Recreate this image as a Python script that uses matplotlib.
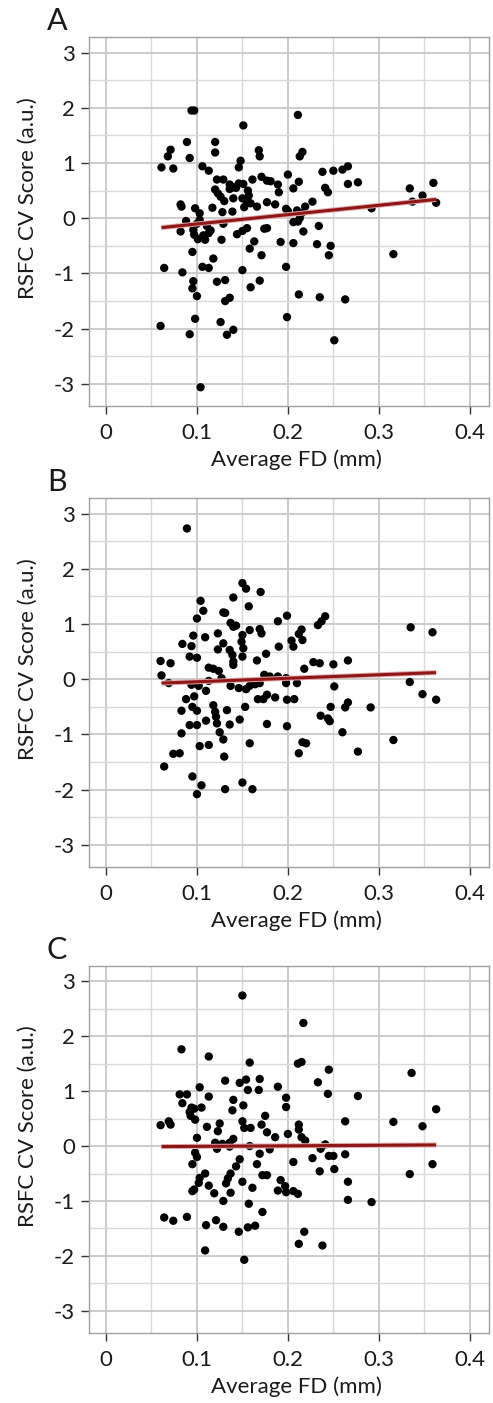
import numpy as np
import matplotlib.pyplot as plt
from matplotlib.ticker import MultipleLocator

plt.rcParams['font.family'] = ['Lato', 'DejaVu Sans']

# Panel A: average FD (mm) vs RSFC CV score
fd_a = [0.094, 0.097, 0.211, 0.151, 0.089, 0.120, 0.071, 0.068, 0.092, 0.120,
        0.168, 0.169, 0.216, 0.213, 0.148, 0.146, 0.061, 0.074, 0.106, 0.113,
        0.266, 0.260, 0.250, 0.238, 0.200, 0.161, 0.171, 0.177, 0.122, 0.129,
        0.136, 0.140, 0.146, 0.151, 0.181, 0.189, 0.190, 0.212, 0.206, 0.266,
        0.277, 0.241, 0.244, 0.120, 0.123, 0.126, 0.130, 0.136, 0.140, 0.156,
        0.157, 0.150, 0.155, 0.152, 0.159, 0.166, 0.177, 0.186, 0.198, 0.200,
        0.210, 0.219, 0.227, 0.292, 0.334, 0.337, 0.348, 0.360, 0.363, 0.082,
        0.083, 0.098, 0.103, 0.117, 0.128, 0.139, 0.088, 0.082, 0.096, 0.100,
        0.103, 0.111, 0.113, 0.097, 0.101, 0.109, 0.129, 0.127, 0.144, 0.150,
        0.155, 0.158, 0.163, 0.174, 0.177, 0.171, 0.192, 0.206, 0.206, 0.211,
        0.213, 0.215, 0.217, 0.234, 0.232, 0.247, 0.245, 0.316, 0.095, 0.118,
        0.064, 0.106, 0.113, 0.150, 0.198, 0.084, 0.096, 0.122, 0.131, 0.169,
        0.159, 0.095, 0.100, 0.136, 0.131, 0.212, 0.235, 0.263, 0.199, 0.098,
        0.126, 0.060, 0.092, 0.133, 0.140, 0.251, 0.104, 0.107, 0.115, 0.143]
score_a = [1.95, 1.95, 1.87, 1.68, 1.38, 1.38, 1.24, 1.12, 1.09, 1.19,
           1.23, 1.12, 1.20, 1.12, 1.04, 0.92, 0.92, 0.90, 0.94, 0.86,
           0.94, 0.88, 0.86, 0.84, 0.79, 0.70, 0.75, 0.68, 0.70, 0.70,
           0.61, 0.56, 0.63, 0.62, 0.67, 0.61, 0.47, 0.66, 0.54, 0.62,
           0.65, 0.55, 0.47, 0.52, 0.45, 0.39, 0.31, 0.53, 0.36, 0.50,
           0.41, 0.36, 0.30, 0.20, 0.27, 0.21, 0.29, 0.25, 0.17, 0.13,
           0.14, 0.21, 0.30, 0.18, 0.54, 0.30, 0.41, 0.64, 0.28, 0.25,
           0.21, 0.18, 0.09, 0.19, 0.11, 0.12, -0.05, -0.24, -0.21, -0.10,
           -0.03, -0.14, -0.27, -0.30, -0.38, -0.39, -0.10, -0.39, -0.29, -0.23,
           -0.18, -0.55, -0.42, -0.19, -0.18, -0.67, -0.43, -0.45, -0.07, -0.06,
           0.00, 0.09, -0.24, -0.14, -0.47, -0.50, -0.67, -0.65, -0.61, -0.73,
           -0.90, -0.88, -0.90, -0.94, -0.88, -0.98, -1.14, -1.15, -1.12, -1.13,
           -1.25, -1.27, -1.41, -1.44, -1.50, -1.38, -1.43, -1.47, -1.79, -1.82,
           -1.88, -1.95, -2.10, -2.11, -2.02, -2.21, -3.06, -0.31, -0.22, 0.55]

# Panel B
fd_b = [0.089, 0.150, 0.154, 0.170, 0.140, 0.104, 0.157, 0.107, 0.129, 0.131,
        0.199, 0.100, 0.241, 0.237, 0.233, 0.189, 0.137, 0.140, 0.143, 0.335,
        0.359, 0.158, 0.169, 0.171, 0.215, 0.212, 0.150, 0.096, 0.109, 0.123,
        0.216, 0.204, 0.206, 0.149, 0.129, 0.123, 0.136, 0.151, 0.084, 0.094,
        0.190, 0.176, 0.139, 0.150, 0.092, 0.100, 0.140, 0.140, 0.166, 0.060,
        0.071, 0.228, 0.235, 0.250, 0.266, 0.218, 0.113, 0.118, 0.124, 0.127,
        0.061, 0.069, 0.174, 0.180, 0.189, 0.198, 0.113, 0.094, 0.102, 0.110,
        0.137, 0.146, 0.154, 0.158, 0.164, 0.169, 0.198, 0.210, 0.251, 0.334,
        0.348, 0.363, 0.088, 0.097, 0.167, 0.173, 0.177, 0.186, 0.199, 0.207,
        0.266, 0.263, 0.247, 0.291, 0.095, 0.100, 0.083, 0.118, 0.120, 0.133,
        0.153, 0.121, 0.236, 0.244, 0.246, 0.110, 0.147, 0.122, 0.092, 0.100,
        0.136, 0.177, 0.199, 0.083, 0.125, 0.260, 0.129, 0.316, 0.216, 0.220,
        0.158, 0.103, 0.113, 0.074, 0.081, 0.212, 0.277, 0.130, 0.064, 0.095,
        0.150, 0.105, 0.131, 0.161, 0.100]
score_b = [2.73, 1.74, 1.64, 1.58, 1.48, 1.42, 1.32, 1.24, 1.21, 1.20,
           1.15, 1.10, 1.14, 1.05, 0.98, 1.05, 1.02, 0.95, 0.97, 0.94,
           0.85, 0.89, 0.91, 0.83, 0.90, 0.82, 0.80, 0.79, 0.76, 0.83,
           0.71, 0.70, 0.59, 0.68, 0.65, 0.54, 0.53, 0.56, 0.64, 0.60,
           0.59, 0.46, 0.44, 0.41, 0.41, 0.39, 0.32, 0.26, 0.34, 0.33,
           0.29, 0.31, 0.29, 0.27, 0.34, 0.19, 0.21, 0.19, 0.15, 0.02,
           0.07, -0.07, 0.08, 0.05, 0.05, 0.02, -0.03, -0.10, -0.12, -0.21,
           -0.12, -0.16, -0.18, -0.12, -0.09, -0.07, -0.07, -0.07, -0.13, -0.05,
           -0.27, -0.37, -0.36, -0.31, -0.36, -0.36, -0.28, -0.33, -0.37, -0.36,
           -0.42, -0.51, -0.50, -0.51, -0.50, -0.57, -0.57, -0.47, -0.59, -0.56,
           -0.50, -0.68, -0.66, -0.71, -0.76, -0.75, -0.73, -0.80, -0.83, -0.83,
           -0.82, -0.81, -0.85, -0.98, -0.96, -0.96, -1.09, -1.10, -1.14, -1.16,
           -1.16, -1.21, -1.19, -1.35, -1.34, -1.34, -1.31, -1.40, -1.58, -1.76,
           -1.87, -1.92, -1.99, -1.99, -2.08]

# Panel C
fd_c = [0.150, 0.217, 0.083, 0.113, 0.211, 0.215, 0.158, 0.245, 0.336, 0.131,
        0.147, 0.154, 0.169, 0.233, 0.103, 0.189, 0.156, 0.168, 0.081, 0.089,
        0.113, 0.198, 0.244, 0.277, 0.084, 0.140, 0.151, 0.094, 0.097, 0.105,
        0.198, 0.139, 0.363, 0.092, 0.093, 0.098, 0.175, 0.263, 0.316, 0.060,
        0.069, 0.071, 0.125, 0.150, 0.152, 0.159, 0.111, 0.212, 0.212, 0.171,
        0.177, 0.348, 0.123, 0.200, 0.186, 0.100, 0.140, 0.215, 0.219, 0.120,
        0.128, 0.136, 0.122, 0.136, 0.158, 0.241, 0.236, 0.180, 0.169, 0.098,
        0.100, 0.245, 0.250, 0.263, 0.095, 0.147, 0.143, 0.166, 0.206, 0.227,
        0.251, 0.235, 0.359, 0.334, 0.109, 0.137, 0.103, 0.134, 0.102, 0.113,
        0.132, 0.150, 0.161, 0.172, 0.177, 0.192, 0.266, 0.095, 0.097, 0.119,
        0.137, 0.189, 0.197, 0.198, 0.206, 0.211, 0.129, 0.157, 0.266, 0.292,
        0.172, 0.064, 0.074, 0.089, 0.110, 0.121, 0.129, 0.156, 0.164, 0.146,
        0.218, 0.212, 0.238, 0.109, 0.152]
score_c = [2.74, 2.24, 1.76, 1.63, 1.50, 1.53, 1.52, 1.39, 1.33, 1.19,
           1.15, 1.21, 1.22, 1.16, 1.07, 1.08, 1.02, 1.02, 0.94, 0.94,
           0.90, 0.88, 0.95, 0.91, 0.78, 0.84, 0.74, 0.70, 0.68, 0.70,
           0.71, 0.65, 0.67, 0.62, 0.55, 0.48, 0.55, 0.45, 0.44, 0.38,
           0.45, 0.39, 0.41, 0.45, 0.33, 0.33, 0.35, 0.39, 0.30, 0.39,
           0.25, 0.36, 0.27, 0.22, 0.16, 0.15, 0.13, 0.16, 0.10, 0.06,
           0.04, 0.06, -0.05, -0.01, 0.00, 0.03, -0.05, -0.06, -0.14, -0.12,
           -0.20, -0.18, -0.18, -0.15, -0.33, -0.24, -0.37, -0.33, -0.29, -0.22,
           -0.42, -0.46, -0.33, -0.51, -0.50, -0.50, -0.58, -0.59, -0.67, -0.72,
           -0.68, -0.65, -0.76, -0.53, -0.53, -0.62, -0.65, -0.82, -0.79, -0.86,
           -0.85, -0.81, -0.73, -0.84, -0.82, -0.87, -1.00, -1.05, -0.98, -1.02,
           -1.20, -1.30, -1.36, -1.29, -1.44, -1.35, -1.47, -1.48, -1.45, -1.56,
           -1.56, -1.78, -1.81, -1.90, -2.07]

# Regression line end points
fit_x = [0.061, 0.363]
fit_a = [-0.17, 0.34]
fit_b = [-0.07, 0.12]
fit_c = [-0.01, 0.02]

panels = [('A', fd_a, score_a, fit_a),
          ('B', fd_b, score_b, fit_b),
          ('C', fd_c, score_c, fit_c)]

# axes boxes in figure fractions [left, bottom, width, height]
boxes = [[0.1805, 0.7106, 0.811, 0.263],
         [0.1805, 0.3820, 0.811, 0.263],
         [0.1805, 0.0500, 0.811, 0.2616]]

text_color = '#1a1a1a'

fig = plt.figure(figsize=(4.93, 14.03), dpi=100)

for (letter, fd, score, fit), box in zip(panels, boxes):
    ax = fig.add_axes(box)
    ax.set_xlim(-0.0187, 0.4209)
    ax.set_ylim(-3.40, 3.28)

    ax.xaxis.set_minor_locator(MultipleLocator(0.05))
    ax.yaxis.set_minor_locator(MultipleLocator(0.5))
    ax.set_xticks([0, 0.1, 0.2, 0.3, 0.4])
    ax.set_xticklabels(['0', '0.1', '0.2', '0.3', '0.4'])
    ax.set_yticks([-3, -2, -1, 0, 1, 2, 3])
    ax.set_yticklabels(['-3', '-2', '-1', '0', '1', '2', '3'])

    ax.grid(True, which='major', color='#c8c8c8', linewidth=1.3)
    ax.grid(True, which='minor', color='#dadada', linewidth=1.0)
    ax.set_axisbelow(True)

    ax.tick_params(which='major', direction='out', length=6, width=1.0,
                   color='#333333', labelsize=16, labelcolor=text_color, pad=4)
    ax.tick_params(which='minor', length=0)
    ax.tick_params(axis='x', pad=6)
    for side in ax.spines:
        ax.spines[side].set_color('#a0a0a0')
        ax.spines[side].set_linewidth(1.0)

    ax.scatter(fd, score, s=36, color='black', edgecolors='none', zorder=3)
    ax.plot(fit_x, fit, color='#e2a8a8', linewidth=3.6, solid_capstyle='butt', zorder=4)
    ax.plot(fit_x, fit, color='#8e1616', linewidth=2.2, solid_capstyle='butt', zorder=5)

    ax.set_xlabel('Average FD (mm)', fontsize=16, color=text_color)
    ax.set_ylabel('RSFC CV Score (a.u.)', fontsize=16, color=text_color)
    ax.xaxis.label.set_verticalalignment('center')
    ax.yaxis.label.set_verticalalignment('center')
    ax.xaxis.set_label_coords(0.52, -0.146)
    ax.yaxis.set_label_coords(-0.1525, 0.564)

    ax.text(-0.08, 1.005, letter, transform=ax.transAxes, fontsize=22,
            color=text_color, ha='center', va='bottom')

fig.savefig('out.png', dpi=100)
